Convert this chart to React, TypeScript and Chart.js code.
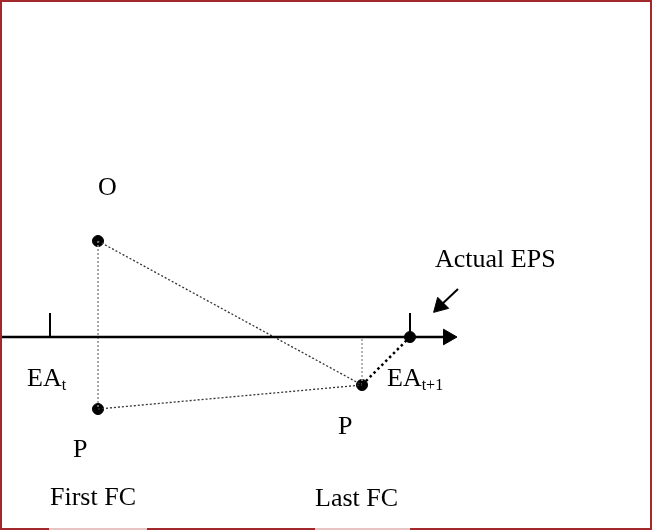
import { useEffect, useRef } from "react";
import { Chart, registerables } from "chart.js";

Chart.register(...registerables);

// ---- Diagram data (value space: x 0..652, y 0..531 downward) ----
const nodeNames = ["O", "P first", "P last", "EA t+1", "foot"];
const nodeX = [98, 98, 362, 410, 362];
const nodeY = [241, 409, 385, 337, 337];
const dotNodes = [0, 1, 2, 3];

const edgeFrom = [0, 0, 1, 2, 2];
const edgeTo = [1, 2, 2, 3, 4];

const axisLevel = 337;
const axisStart = 0;
const axisEnd = 448;
const tickX = [50, 410];
const tickTop = 313;

const pointerFrom = { x: 458, y: 289 };
const pointerHead = { x: 440, y: 306 };

const labelText = ["O", "EA", "P", "P", "EA", "Actual EPS", "First FC", "Last FC"];
const labelSub = ["", "t", "", "", "t+1", "", "", ""];
const labelX = [98, 27, 73, 338, 387, 435, 50, 315];
const labelY = [195, 386, 457, 434, 386, 267, 505, 506];

// ---- Styles ----
const edgeStyle = [
  { color: "#8a8a8a", width: 1.5, dash: [2, 2] },
  { color: "#333333", width: 1.3, dash: [2, 2] },
  { color: "#333333", width: 1.3, dash: [2, 2] },
  { color: "#000000", width: 2.5, dash: [2.5, 3] },
  { color: "#9a9a9a", width: 1.5, dash: [2, 2] },
];

const FONT = "'Liberation Serif', 'Times New Roman', serif";

const framePlugin = {
  id: "frame",
  afterDraw(chart: any) {
    const ctx = chart.ctx;
    const w = chart.width;
    const h = chart.height;
    ctx.save();
    ctx.strokeStyle = "#a3282b";
    ctx.lineWidth = 2;
    ctx.beginPath();
    ctx.moveTo(1, h - 1);
    ctx.lineTo(1, 1);
    ctx.lineTo(w - 1, 1);
    ctx.lineTo(w - 1, h - 1);
    ctx.stroke();
    // bottom edge with pale gaps
    const segs = [
      [0, 49, "#a3282b"],
      [49, 147, "#e8c4c4"],
      [147, 315, "#a3282b"],
      [315, 410, "#e8c4c4"],
      [410, w, "#a3282b"],
    ];
    for (const [a, b, c] of segs as any) {
      ctx.strokeStyle = c;
      ctx.beginPath();
      ctx.moveTo(a, h - 2);
      ctx.lineTo(b, h - 2);
      ctx.stroke();
    }
    ctx.restore();
  },
};

const labelPlugin = {
  id: "labels",
  afterDraw(chart: any) {
    const ctx = chart.ctx;
    const xs = chart.scales.x;
    const ys = chart.scales.y;
    ctx.save();
    ctx.fillStyle = "#000";
    ctx.textBaseline = "alphabetic";
    ctx.textAlign = "left";
    for (let i = 0; i < labelText.length; i++) {
      const px = xs.getPixelForValue(labelX[i]);
      const py = ys.getPixelForValue(labelY[i]);
      ctx.font = `26px ${FONT}`;
      ctx.fillText(labelText[i], px, py);
      if (labelSub[i]) {
        const w = ctx.measureText(labelText[i]).width;
        ctx.font = `16px ${FONT}`;
        ctx.fillText(labelSub[i], px + w, py + 4);
      }
    }
    ctx.restore();
  },
};

export default function App() {
  const ref = useRef<HTMLCanvasElement | null>(null);

  useEffect(() => {
    if (!ref.current) return;
    const datasets: any[] = [];

    // axis line
    datasets.push({
      data: [
        { x: axisStart, y: axisLevel },
        { x: axisEnd, y: axisLevel },
      ],
      showLine: true,
      borderColor: "#000",
      borderWidth: 2.5,
      pointRadius: 0,
    });
    // axis arrowhead
    datasets.push({
      data: [{ x: axisEnd, y: axisLevel }],
      pointStyle: "triangle",
      rotation: 90,
      pointRadius: 9,
      backgroundColor: "#000",
      borderColor: "#000",
      borderWidth: 1,
    });
    // ticks
    tickX.forEach((tx) => {
      datasets.push({
        data: [
          { x: tx, y: tickTop },
          { x: tx, y: axisLevel },
        ],
        showLine: true,
        borderColor: "#000",
        borderWidth: 2,
        pointRadius: 0,
      });
    });
    // dotted edges
    edgeFrom.forEach((f, i) => {
      const t = edgeTo[i];
      const s = edgeStyle[i];
      datasets.push({
        data: [
          { x: nodeX[f], y: nodeY[f] },
          { x: nodeX[t], y: nodeY[t] },
        ],
        showLine: true,
        borderColor: s.color,
        borderWidth: s.width,
        borderDash: s.dash,
        pointRadius: 0,
      });
    });
    // pointer arrow to Actual EPS
    datasets.push({
      data: [pointerFrom, pointerHead],
      showLine: true,
      borderColor: "#000",
      borderWidth: 2,
      pointRadius: 0,
    });
    datasets.push({
      data: [pointerHead],
      pointStyle: "triangle",
      rotation: 225,
      pointRadius: 9,
      backgroundColor: "#000",
      borderColor: "#000",
      borderWidth: 1,
    });
    // nodes
    datasets.push({
      data: dotNodes.map((i) => ({ x: nodeX[i], y: nodeY[i] })),
      pointRadius: 5.5,
      backgroundColor: "#000",
      borderColor: "#000",
      borderWidth: 1,
    });

    const chart = new Chart(ref.current, {
      type: "scatter",
      data: { datasets },
      options: {
        responsive: false,
        animation: false,
        devicePixelRatio: 1,
        layout: { padding: 0, autoPadding: false },
        plugins: {
          legend: { display: false },
          tooltip: { enabled: false },
        },
        scales: {
          x: { type: "linear", min: 0, max: 652, display: false },
          y: { type: "linear", min: 0, max: 531, reverse: true, display: false },
        },
      },
      plugins: [labelPlugin, framePlugin],
    } as any);
    return () => chart.destroy();
  }, []);

  return (
    <div style={{ position: "absolute", left: 0, top: 0, width: 652, height: 531, background: "#fff" }}>
      <canvas ref={ref} width={652} height={531} style={{ display: "block", width: 652, height: 531 }} />
    </div>
  );
}
